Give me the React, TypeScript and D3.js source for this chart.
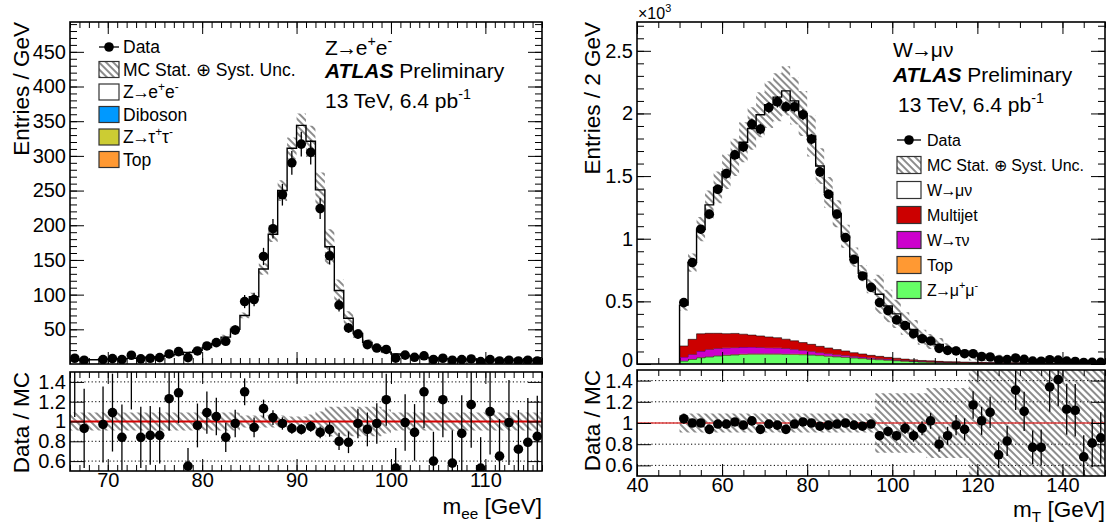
import { useEffect, useRef } from 'react';
import * as d3 from 'd3';

const FONT = '"Liberation Sans", Arial, Helvetica, sans-serif';

// Z -> ee : 1 GeV bins from 66 to 116 GeV
const zeeEdges = d3.range(66, 117, 1);
const zeeData = [
  8.3, 5.4, 0, 6.4, 7.8, 6.4, 12.6, 7.4, 8.3, 9.2,
  14.5, 17.9, 9.2, 18.8, 26, 30.8, 32.7, 49, 90, 93,
  155, 195, 244, 290, 317, 305, 224, 156, 85, 52,
  43, 28, 23, 21, 8.5, 12.8, 9.7, 11.8, 6.5, 8.3,
  5.4, 6.3, 7.3, 3.5, 6.3, 4.4, 5.4, 4.4, 5.4, 4.4,
];
const zeeMc = [
  5.2, 5.8, 6.2, 6.6, 7.1, 7.6, 8.1, 8.8, 9.7, 10.7,
  11.8, 13.8, 16.7, 19.6, 23.8, 29.3, 38.8, 50.2, 70, 97,
  137, 187, 250, 311, 344, 321, 251, 169, 106, 66,
  44, 31, 23.4, 17.5, 14.5, 12.5, 10.9, 9.4, 8.6, 7.6,
  7.0, 6.5, 6.2, 6.0, 5.8, 5.6, 5.4, 5.3, 5.2, 5.1,
];
const zeeRatio = [
  1.6, 0.93, null, 0.97, 1.09, 0.84, 1.56, 0.84, 0.86, 0.86,
  1.23, 1.29, 0.55, 0.96, 1.09, 1.05, 0.84, 0.98, 1.3, 0.94,
  1.13, 1.04, 0.98, 0.93, 0.92, 0.95, 0.89, 0.92, 0.8, 0.79,
  0.98, 0.92, 0.98, 1.22, 0.53, 0.99, 0.89, 1.3, 0.6, 1.22,
  0.58, 0.88, 1.17, 0.53, 1.1, 0.65, 0.99, 0.72, 0.79, 0.85,
];
const zeeUnc = [
  0.09, 0.09, 0.09, 0.09, 0.09, 0.09, 0.09, 0.09, 0.09, 0.09,
  0.09, 0.09, 0.09, 0.09, 0.09, 0.09, 0.09, 0.09, 0.06, 0.06,
  0.06, 0.06, 0.06, 0.05, 0.05, 0.07, 0.1, 0.15, 0.15, 0.15,
  0.15, 0.15, 0.15, 0.12, 0.09, 0.09, 0.09, 0.09, 0.09, 0.09,
  0.09, 0.09, 0.09, 0.09, 0.09, 0.09, 0.09, 0.09, 0.09, 0.09,
];

// W -> mu nu : 2 GeV bins from 50 to 150 GeV, values in 10^3 entries
const wEdges = d3.range(50, 151, 2);
const wData = [
  0.49, 0.81, 1.076, 1.196, 1.395, 1.52, 1.67, 1.733, 1.915, 1.875,
  2.047, 2.093, 2.053, 2.053, 1.99, 1.795, 1.534, 1.355, 1.196, 1.009,
  0.836, 0.703, 0.612, 0.49, 0.426, 0.352, 0.307, 0.242, 0.202, 0.184,
  0.125, 0.109, 0.104, 0.082, 0.082, 0.059, 0.056, 0.032, 0.035, 0.048,
  0.037, 0.023, 0.022, 0.034, 0.031, 0.023, 0.02, 0.012, 0.013, 0.013,
];
const wMcTotal = [
  0.47, 0.81, 1.076, 1.27, 1.41, 1.535, 1.65, 1.77, 1.88, 1.99,
  2.07, 2.13, 2.18, 2.1, 2.0, 1.82, 1.58, 1.37, 1.2, 1.02,
  0.853, 0.725, 0.62, 0.557, 0.463, 0.4, 0.323, 0.275, 0.213, 0.18,
  0.156, 0.124, 0.106, 0.087, 0.07, 0.058, 0.051, 0.046, 0.042, 0.037,
  0.033, 0.03, 0.028, 0.025, 0.022, 0.02, 0.018, 0.017, 0.016, 0.015,
];
const wZmumu = [
  0.024, 0.037, 0.05, 0.056, 0.064, 0.069, 0.072, 0.076, 0.078, 0.078,
  0.078, 0.078, 0.077, 0.076, 0.074, 0.071, 0.067, 0.062, 0.057, 0.053,
  0.048, 0.043, 0.038, 0.034, 0.03, 0.026, 0.022, 0.019, 0.016, 0.014,
  0.012, 0.01, 0.009, 0.008, 0.007, 0.006, 0.005, 0.005, 0.004, 0.004,
  0.003, 0.003, 0.003, 0.002, 0.002, 0.002, 0.002, 0.002, 0.001, 0.001,
];
const wTop = [
  0.002, 0.003, 0.003, 0.004, 0.004, 0.004, 0.005, 0.005, 0.005, 0.005,
  0.005, 0.005, 0.005, 0.005, 0.005, 0.005, 0.004, 0.004, 0.004, 0.004,
  0.004, 0.004, 0.003, 0.003, 0.003, 0.003, 0.003, 0.002, 0.002, 0.002,
  0.002, 0.002, 0.002, 0.002, 0.002, 0.002, 0.002, 0.002, 0.002, 0.002,
  0.001, 0.001, 0.001, 0.001, 0.001, 0.001, 0.001, 0.001, 0.001, 0.001,
];
const wTaunu = [
  0.03, 0.037, 0.05, 0.057, 0.057, 0.056, 0.054, 0.054, 0.053, 0.05,
  0.047, 0.046, 0.043, 0.037, 0.031, 0.026, 0.02, 0.017, 0.014, 0.012,
  0.01, 0.009, 0.008, 0.007, 0.006, 0.005, 0.004, 0.004, 0.003, 0.003,
  0.002, 0.002, 0.002, 0.002, 0.002, 0.002, 0.002, 0.002, 0.002, 0.002,
  0.001, 0.001, 0.001, 0.001, 0.001, 0.001, 0.001, 0.001, 0.001, 0.001,
];
const wMultijet = [
  0.088, 0.12, 0.138, 0.128, 0.12, 0.113, 0.113, 0.103, 0.095, 0.091,
  0.086, 0.081, 0.073, 0.067, 0.061, 0.055, 0.05, 0.045, 0.04, 0.035,
  0.028, 0.024, 0.02, 0.017, 0.014, 0.012, 0.01, 0.008, 0.007, 0.006,
  0.005, 0.004, 0.004, 0.003, 0.003, 0.003, 0.002, 0.002, 0.002, 0.002,
  0.001, 0.001, 0.001, 0.001, 0.001, 0.001, 0.001, 0.001, 0.001, 0.001,
];
const wRatio = [
  1.04, 1.0, 1.0, 0.94, 0.99, 0.99, 1.01, 0.98, 1.02, 0.94,
  0.99, 0.98, 0.94, 0.99, 1.01, 1.0, 0.97, 0.98, 0.99, 1.0,
  0.98, 0.97, 0.99, 0.88, 0.92, 0.88, 0.95, 0.88, 0.95, 1.02,
  0.8, 0.88, 0.98, 0.94, 1.17, 1.02, 1.1, 0.7, 0.83, 1.31,
  1.11, 0.77, 0.77, 1.34, 1.41, 1.13, 1.12, 0.68, 0.81, 0.86,
];
const wUnc = [
  0.09, 0.09, 0.09, 0.09, 0.09, 0.09, 0.09, 0.09, 0.09, 0.09,
  0.09, 0.09, 0.09, 0.09, 0.09, 0.09, 0.09, 0.09, 0.09, 0.09,
  0.09, 0.09, 0.09, 0.28, 0.28, 0.28, 0.28, 0.28, 0.28, 0.33,
  0.33, 0.33, 0.33, 0.33, 0.6, 0.6, 0.6, 0.6, 0.6, 0.6,
  0.6, 0.6, 0.6, 0.6, 0.6, 0.6, 0.6, 0.6, 0.6, 0.6,
];

const ratioTicks = [0.6, 0.8, 1, 1.2, 1.4];

type Part = { t: string; sup?: boolean; sub?: boolean; bold?: boolean; italic?: boolean; dx?: number };

const ARROW = { t: '\u2192', dx: -1.5 };

function rich(parent: any, x: number, y: number, parts: Part[], size: number, anchor = 'start', rotate = false) {
  const t = parent
    .append('text')
    .attr('font-family', FONT)
    .attr('font-size', size)
    .attr('text-anchor', anchor)
    .attr('fill', '#000');
  if (rotate) t.attr('transform', `translate(${x},${y}) rotate(-90)`);
  else t.attr('x', x).attr('y', y);
  let shift = 0;
  let pendingDx = 0;
  parts.forEach(p => {
    const target = p.sup ? -size * 0.42 : p.sub ? size * 0.22 : 0;
    const s = t.append('tspan').text(p.t).attr('dy', target - shift);
    shift = target;
    const dx = (p.dx || 0) + pendingDx;
    if (dx) s.attr('dx', dx);
    pendingDx = p.dx || 0;
    if (p.sup || p.sub) s.attr('font-size', size * 0.68);
    if (p.bold) s.attr('font-weight', 'bold');
    if (p.italic) s.attr('font-style', 'italic');
  });
  return t;
}

function addAxis(parent: any, axis: any, tx: number, ty: number, size = 20) {
  const a = parent.append('g').attr('transform', `translate(${tx},${ty})`).call(axis);
  a.attr('font-family', FONT).attr('font-size', size);
  a.select('.domain').remove();
  a.selectAll('.tick line').attr('stroke', '#000').attr('stroke-width', 1);
  a.selectAll('.tick text').attr('fill', '#000');
  return a;
}

type Layer = { values: number[]; color: string };

type Panel = {
  id: string;
  x0: number; x1: number; top: number; mainBottom: number; ratioTop: number; ratioBottom: number;
  xDomain: [number, number]; yMax: number;
  edges: number[]; data: number[]; mc: number[]; unc: number[]; ratio: (number | null)[];
  bkg: Layer[]; countScale: number; startLine: boolean;
  xMajor: number[]; xMinor: number[]; yMajor: number[]; yMinor: number[];
  redColor: string; redWidth: number;
};

function drawPanel(svg: any, c: Panel) {
  const x = d3.scaleLinear().domain(c.xDomain).range([c.x0, c.x1]);
  const y = d3.scaleLinear().domain([0, c.yMax]).range([c.mainBottom, c.top]);
  const r = d3.scaleLinear().domain([0.5, 1.5]).range([c.ratioBottom, c.ratioTop]);
  const w = c.x1 - c.x0;
  const defs = svg.select('defs');
  defs.append('clipPath').attr('id', `${c.id}-main`).append('rect')
    .attr('x', c.x0).attr('y', c.top).attr('width', w).attr('height', c.mainBottom - c.top);
  defs.append('clipPath').attr('id', `${c.id}-ratio`).append('rect')
    .attr('x', c.x0).attr('y', c.ratioTop).attr('width', w).attr('height', c.ratioBottom - c.ratioTop);

  const n = c.data.length;
  const idx = d3.range(n + 1);
  const at = (arr: number[], i: number) => arr[Math.min(i, n - 1)];
  const centre = (i: number) => (c.edges[i] + c.edges[i + 1]) / 2;

  // main panel: stacked MC
  const main = svg.append('g').attr('clip-path', `url(#${c.id}-main)`);
  main.append('path')
    .attr('d', d3.area<number>().curve(d3.curveStepAfter)
      .x(i => x(c.edges[i])).y0(y(0)).y1(i => y(at(c.mc, i)))(idx))
    .attr('fill', '#fff');

  if (c.bkg.length) {
    const keys = c.bkg.map((_, k) => `k${k}`);
    const rows = d3.range(n).map(i => {
      const row: Record<string, number> = {};
      c.bkg.forEach((b, k) => { row[`k${k}`] = b.values[i]; });
      return row;
    });
    const layers = d3.stack<Record<string, number>>().keys(keys)(rows);
    layers.forEach((layer, k) => {
      const lo = (i: number) => layer[Math.min(i, n - 1)][0];
      const hi = (i: number) => layer[Math.min(i, n - 1)][1];
      main.append('path')
        .attr('d', d3.area<number>().curve(d3.curveStepAfter)
          .x(i => x(c.edges[i])).y0(i => y(lo(i))).y1(i => y(hi(i)))(idx))
        .attr('fill', c.bkg[k].color);
      main.append('path')
        .attr('d', d3.line<number>().curve(d3.curveStepAfter).x(i => x(c.edges[i])).y(i => y(hi(i)))(idx))
        .attr('fill', 'none').attr('stroke', '#000').attr('stroke-width', 0.8).attr('stroke-opacity', 0.7);
    });
  }

  const outline = [{ e: c.edges[0], v: 0 }].concat(idx.map(i => ({ e: c.edges[i], v: at(c.mc, i) })));
  main.append('path')
    .attr('d', d3.line<{ e: number; v: number }>().curve(d3.curveStepAfter)
      .x(d => x(d.e)).y(d => y(d.v))(c.startLine ? outline : outline.slice(1)))
    .attr('fill', 'none').attr('stroke', '#000').attr('stroke-width', 1.4);

  main.append('path')
    .attr('d', d3.area<number>().curve(d3.curveStepAfter)
      .x(i => x(c.edges[i]))
      .y0(i => y(at(c.mc, i) * (1 - at(c.unc, i))))
      .y1(i => y(at(c.mc, i) * (1 + at(c.unc, i))))(idx))
    .attr('fill', 'url(#hatch)');

  // ratio panel
  const rat = svg.append('g').attr('clip-path', `url(#${c.id}-ratio)`);
  rat.append('path')
    .attr('d', d3.area<number>().curve(d3.curveStepAfter)
      .x(i => x(c.edges[i]))
      .y0(i => r(1 - at(c.unc, i)))
      .y1(i => r(1 + at(c.unc, i)))(idx))
    .attr('fill', 'url(#hatch)');
  ratioTicks.forEach(v => {
    rat.append('line')
      .attr('x1', c.x0).attr('x2', c.x1).attr('y1', r(v)).attr('y2', r(v))
      .attr('stroke', '#000').attr('stroke-width', 1).attr('stroke-dasharray', '1.2,2.4');
  });
  rat.append('line')
    .attr('x1', c.x0).attr('x2', c.x1).attr('y1', r(1)).attr('y2', r(1))
    .attr('stroke', c.redColor).attr('stroke-width', c.redWidth);

  // ticks, ROOT style (inside, mirrored)
  const axes = svg.append('g');
  const fmt = (v: any) => String(v);
  [
    [c.top, c.mainBottom],
    [c.ratioTop, c.ratioBottom],
  ].forEach(([t, b], p) => {
    addAxis(axes, d3.axisBottom(x).tickValues(c.xMinor).tickSize(-6).tickFormat(() => ''), 0, b);
    addAxis(axes, d3.axisTop(x).tickValues(c.xMinor).tickSize(-6).tickFormat(() => ''), 0, t);
    addAxis(axes, d3.axisTop(x).tickValues(c.xMajor).tickSize(-12).tickFormat(() => ''), 0, t);
    addAxis(axes, d3.axisBottom(x).tickValues(c.xMajor).tickSize(-12).tickPadding(2)
      .tickFormat(p === 1 ? fmt : () => ''), 0, b);
  });
  addAxis(axes, d3.axisLeft(y).tickValues(c.yMinor).tickSize(-7).tickFormat(() => ''), c.x0, 0);
  addAxis(axes, d3.axisRight(y).tickValues(c.yMinor).tickSize(-7).tickFormat(() => ''), c.x1, 0);
  const yAx = addAxis(axes, d3.axisLeft(y).tickValues(c.yMajor).tickSize(-14).tickPadding(4).tickFormat(fmt), c.x0, 0);
  yAx.selectAll('.tick').filter((d: any) => d === 0).select('text').attr('dy', '0.1em');
  addAxis(axes, d3.axisRight(y).tickValues(c.yMajor).tickSize(-14).tickFormat(() => ''), c.x1, 0);
  addAxis(axes, d3.axisLeft(r).tickValues(ratioTicks).tickSize(-14).tickPadding(4).tickFormat(fmt), c.x0, 0);
  addAxis(axes, d3.axisRight(r).tickValues(ratioTicks).tickSize(-14).tickFormat(() => ''), c.x1, 0);

  // frames
  [[c.top, c.mainBottom], [c.ratioTop, c.ratioBottom]].forEach(([t, b]) => {
    svg.append('rect').attr('x', c.x0).attr('y', t).attr('width', w).attr('height', b - t)
      .attr('fill', 'none').attr('stroke', '#000').attr('stroke-width', 1.6);
  });

  // data points
  const pts = svg.append('g').attr('clip-path', `url(#${c.id}-main)`);
  c.data.forEach((d, i) => {
    if (d <= 0) return;
    const err = Math.sqrt(d * c.countScale) / c.countScale;
    pts.append('line').attr('x1', x(centre(i))).attr('x2', x(centre(i)))
      .attr('y1', y(d - err)).attr('y2', y(d + err)).attr('stroke', '#000').attr('stroke-width', 1.3);
    pts.append('circle').attr('cx', x(centre(i))).attr('cy', y(d)).attr('r', 4.8).attr('fill', '#000');
  });
  const rpts = svg.append('g').attr('clip-path', `url(#${c.id}-ratio)`);
  c.ratio.forEach((v, i) => {
    if (v === null || c.data[i] <= 0) return;
    const err = Math.sqrt(c.data[i] * c.countScale) / (c.mc[i] * c.countScale);
    rpts.append('line').attr('x1', x(centre(i))).attr('x2', x(centre(i)))
      .attr('y1', r(v - err)).attr('y2', r(v + err)).attr('stroke', '#000').attr('stroke-width', 1.3);
    rpts.append('circle').attr('cx', x(centre(i))).attr('cy', r(v)).attr('r', 4.8).attr('fill', '#000');
  });
}

type Entry = { label: Part[]; kind: 'data' | 'hatch' | 'fill'; color?: string };

function drawLegend(svg: any, bx: number, rows: number[], bw: number, bh: number, tx: number, size: number, entries: Entry[]) {
  entries.forEach((e, k) => {
    const cy = rows[k];
    if (e.kind === 'data') {
      svg.append('line').attr('x1', bx).attr('x2', bx + bw).attr('y1', cy).attr('y2', cy)
        .attr('stroke', '#000').attr('stroke-width', 1.3);
      svg.append('circle').attr('cx', bx + bw / 2).attr('cy', cy).attr('r', 4.8).attr('fill', '#000');
    } else {
      svg.append('rect').attr('x', bx).attr('y', cy - bh / 2).attr('width', bw).attr('height', bh)
        .attr('fill', e.kind === 'hatch' ? 'url(#hatch)' : e.color)
        .attr('stroke', '#333').attr('stroke-width', 1.2);
    }
    rich(svg, tx, cy + size * 0.36, e.label, size);
  });
}

export default function App() {
  const ref = useRef<SVGSVGElement | null>(null);

  useEffect(() => {
    const svg = d3.select(ref.current);
    svg.selectAll('*').remove();
    svg.append('rect').attr('width', 1110).attr('height', 527).attr('fill', '#fff');

    const defs = svg.append('defs');
    defs.append('pattern')
      .attr('id', 'hatch')
      .attr('patternUnits', 'userSpaceOnUse')
      .attr('width', 5)
      .attr('height', 5)
      .attr('patternTransform', 'rotate(-45)')
      .append('line')
      .attr('x1', 1).attr('y1', 0).attr('x2', 1).attr('y2', 5)
      .attr('stroke', '#000').attr('stroke-width', 0.9);

    drawPanel(svg, {
      id: 'zee',
      x0: 70, x1: 542, top: 22, mainBottom: 364, ratioTop: 372, ratioBottom: 471,
      xDomain: [66, 116], yMax: 493,
      edges: zeeEdges, data: zeeData, mc: zeeMc, unc: zeeUnc, ratio: zeeRatio,
      bkg: [], countScale: 1, startLine: false,
      xMajor: d3.range(70, 116, 10), xMinor: d3.range(66, 117, 1),
      yMajor: d3.range(50, 460, 50), yMinor: d3.range(10, 493, 10),
      redColor: '#d40000', redWidth: 2,
    });

    drawPanel(svg, {
      id: 'wmn',
      x0: 637, x1: 1105, top: 22, mainBottom: 364, ratioTop: 370, ratioBottom: 476,
      xDomain: [40, 150], yMax: 2.73,
      edges: wEdges, data: wData, mc: wMcTotal, unc: wUnc, ratio: wRatio,
      bkg: [
        { values: wZmumu, color: '#66ff66' },
        { values: wTop, color: '#ff9933' },
        { values: wTaunu, color: '#cc00cc' },
        { values: wMultijet, color: '#cc0000' },
      ],
      countScale: 1000, startLine: true,
      xMajor: d3.range(40, 150, 20), xMinor: d3.range(40, 151, 5),
      yMajor: [0, 0.5, 1, 1.5, 2, 2.5], yMinor: d3.range(0.1, 2.71, 0.1),
      redColor: '#e04040', redWidth: 1.5,
    });

    // axis titles
    rich(svg, 29, 22, [{ t: 'Entries / GeV' }], 22.5, 'end', true);
    rich(svg, 29, 372, [{ t: 'Data / MC' }], 22.5, 'end', true);
    rich(svg, 542, 514, [{ t: 'm' }, { t: 'ee', sub: true }, { t: ' [GeV]' }], 22.5, 'end');
    rich(svg, 600, 22, [{ t: 'Entries / 2 GeV' }], 22.5, 'end', true);
    rich(svg, 600, 370, [{ t: 'Data / MC' }], 22.5, 'end', true);
    rich(svg, 1105, 517, [{ t: 'm' }, { t: 'T', sub: true }, { t: ' [GeV]' }], 22.5, 'end');
    rich(svg, 638, 19, [{ t: '\u00d710' }, { t: '3', sup: true }], 16);

    // left annotations and legend
    rich(svg, 325, 55, [{ t: 'Z' }, ARROW, { t: 'e' }, { t: '+', sup: true }, { t: 'e' }, { t: '-', sup: true }], 21);
    rich(svg, 325, 78, [{ t: 'ATLAS', bold: true, italic: true }, { t: ' Preliminary' }], 21);
    rich(svg, 325, 108, [{ t: '13 TeV, 6.4 pb' }, { t: '-1', sup: true }], 21);

    drawLegend(svg, 99, [47, 69.5, 92, 114.5, 137, 159.5], 20, 16, 123, 17.5, [
      { label: [{ t: 'Data' }], kind: 'data' },
      { label: [{ t: 'MC Stat. \u2295 Syst. Unc.' }], kind: 'hatch' },
      { label: [{ t: 'Z' }, ARROW, { t: 'e' }, { t: '+', sup: true }, { t: 'e' }, { t: '-', sup: true }], kind: 'fill', color: '#fff' },
      { label: [{ t: 'Diboson' }], kind: 'fill', color: '#0099ff' },
      { label: [{ t: 'Z' }, ARROW, { t: '\u03c4' }, { t: '+', sup: true }, { t: '\u03c4' }, { t: '-', sup: true }], kind: 'fill', color: '#cccc33' },
      { label: [{ t: 'Top' }], kind: 'fill', color: '#ff9933' },
    ]);

    // right annotations and legend
    rich(svg, 893, 57, [{ t: 'W' }, ARROW, { t: '\u03bc\u03bd' }], 21);
    rich(svg, 893, 82, [{ t: 'ATLAS', bold: true, italic: true }, { t: ' Preliminary' }], 21);
    rich(svg, 898, 112, [{ t: '13 TeV, 6.4 pb' }, { t: '-1', sup: true }], 21);

    drawLegend(svg, 897, [140, 165, 190, 215, 240, 265, 290], 24, 17, 927, 16, [
      { label: [{ t: 'Data' }], kind: 'data' },
      { label: [{ t: 'MC Stat. \u2295 Syst. Unc.' }], kind: 'hatch' },
      { label: [{ t: 'W' }, ARROW, { t: '\u03bc\u03bd' }], kind: 'fill', color: '#fff' },
      { label: [{ t: 'Multijet' }], kind: 'fill', color: '#cc0000' },
      { label: [{ t: 'W' }, ARROW, { t: '\u03c4\u03bd' }], kind: 'fill', color: '#cc00cc' },
      { label: [{ t: 'Top' }], kind: 'fill', color: '#ff9933' },
      { label: [{ t: 'Z' }, ARROW, { t: '\u03bc' }, { t: '+', sup: true }, { t: '\u03bc' }, { t: '-', sup: true }], kind: 'fill', color: '#66ff66' },
    ]);
  }, []);

  return (
    <svg
      ref={ref}
      width={1110}
      height={527}
      style={{ position: 'absolute', left: 0, top: 0, display: 'block' }}
    />
  );
}
